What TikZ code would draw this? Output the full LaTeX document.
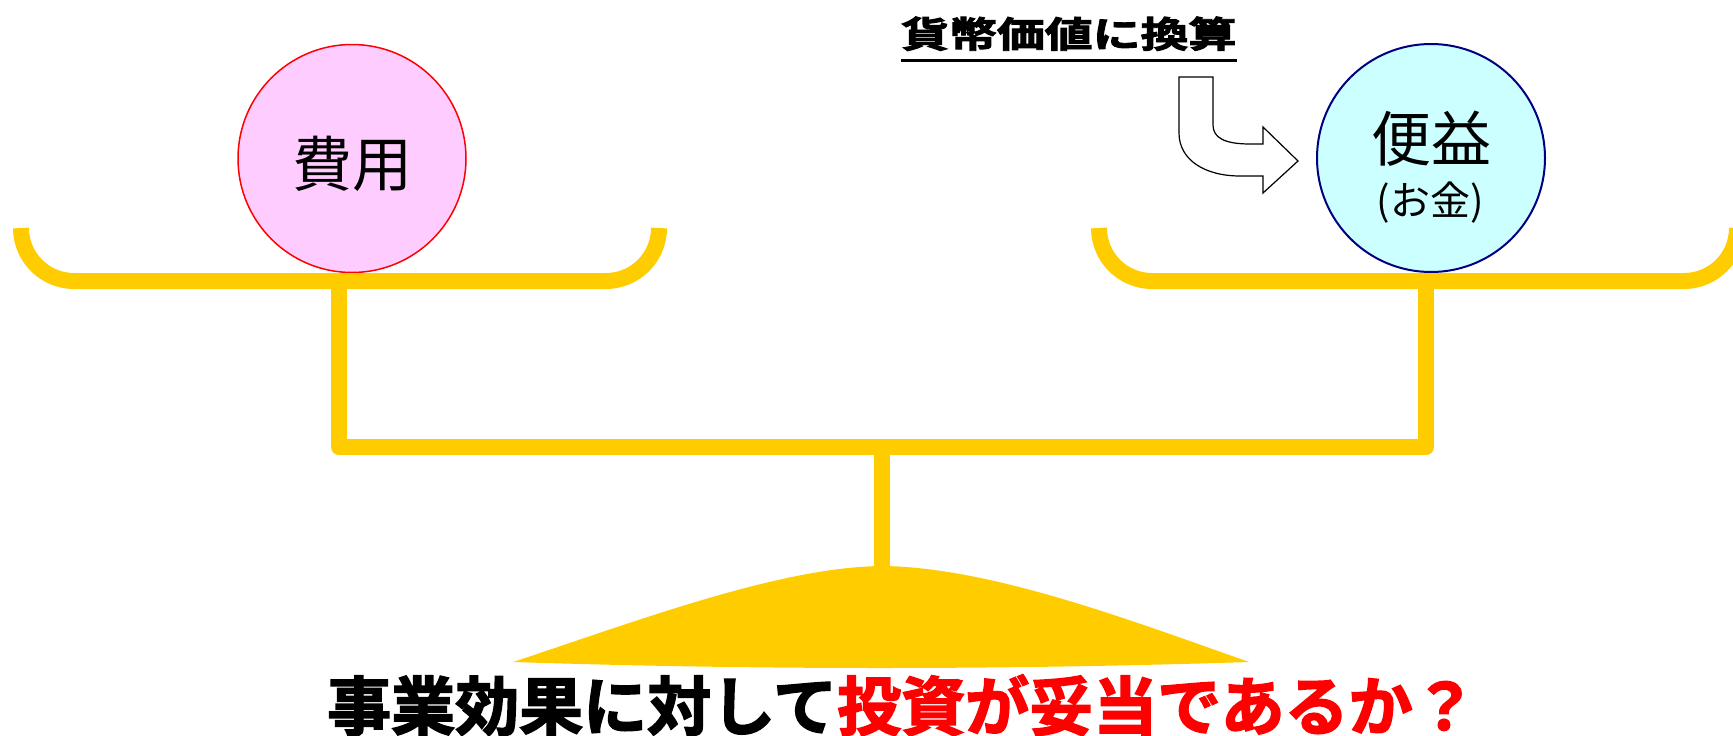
\documentclass[tikz,border=0pt]{standalone}
\usepackage{fontspec}
\usepackage{graphicx}
\newfontfamily\jpfont{Noto Sans CJK JP}
\newfontfamily\jpheavy[UprightFont=* Bold,FakeBold=2.5]{Noto Sans CJK JP}
\definecolor{gold}{HTML}{FFCC00}
\definecolor{pinkfill}{HTML}{FFCCFF}
\definecolor{cyanfill}{HTML}{CCFFFF}
\definecolor{navyline}{HTML}{000080}
\tikzset{
  beam/.style={draw=gold, line width=16pt},
  pan/.style={beam, rounded corners=53pt, line cap=butt},
  frame/.style={beam, line join=round, line cap=round},
  ball/.style={circle, minimum size=228pt, inner sep=0pt},
  bigtxt/.style={font=\jpfont\fontsize{60}{60}\selectfont, inner sep=0pt},
  smalltxt/.style={font=\jpfont\fontsize{40}{40}\selectfont, inner sep=0pt},
  blockarrow/.style={draw=black, fill=white, line width=1.2pt, line join=miter},
}
\begin{document}
\begin{tikzpicture}[x=1pt,y=-1pt]
\useasboundingbox (0,0) rectangle (1733,736);

% fulcrum mound
\fill[gold] (513,662) .. controls (640,620) and (780,567) .. (882,566)
  .. controls (990,567) and (1130,620) .. (1249,662)
  .. controls (1000,670) and (760,670) .. (513,662) -- cycle;

% circles
\node[ball, draw=red, fill=pinkfill, line width=1.5pt] (cost) at (352,158.5) {};
\node[ball, draw=navyline, fill=cyanfill, line width=2pt] (benefit) at (1431,158) {};
\node[bigtxt] (costtxt) at (352,164) {費用};
\node[bigtxt] (bentxt) at (1431,138.5) {便益};
\node[smalltxt] (montxt) at (1430,202.5) {(お金)};

% beam structure
\draw[pan] (21,228) -- (21,281) -- (659,281) -- (659,228);
\draw[pan] (1099,228) -- (1099,281) -- (1737,281) -- (1737,228);
\draw[frame] (339,281) -- (339,447) -- (1426,447) -- (1426,281);
\draw[beam] (882,447) -- (882,568);

% curved block arrow
\draw[blockarrow] (1179,77) -- (1213,77) -- (1213,125)
  .. controls (1213,138) and (1225,144) .. (1250,144) -- (1263,144)
  -- (1263,127) -- (1298,161) -- (1263,193) -- (1263,176) -- (1240,176)
  .. controls (1205,176) and (1179,160) .. (1179,133) -- cycle;

% top label
\node[anchor=base west, inner sep=0pt, font=\jpheavy\fontsize{36}{36}\selectfont] (conv) at (901,47.5)
  {\scalebox{1.33}[1]{貨幣価値に換算}};
\draw[line width=2.5pt] ([yshift=-13pt]conv.base west) -- ([yshift=-13pt]conv.base east);

% bottom question
\node[anchor=base west, inner sep=0pt, font=\jpheavy\fontsize{64}{64}\selectfont] (question) at (327,730)
  {\textcolor{black}{事業効果に対して}\textcolor{red}{投資が妥当であるか？}};
\end{tikzpicture}
\end{document}
